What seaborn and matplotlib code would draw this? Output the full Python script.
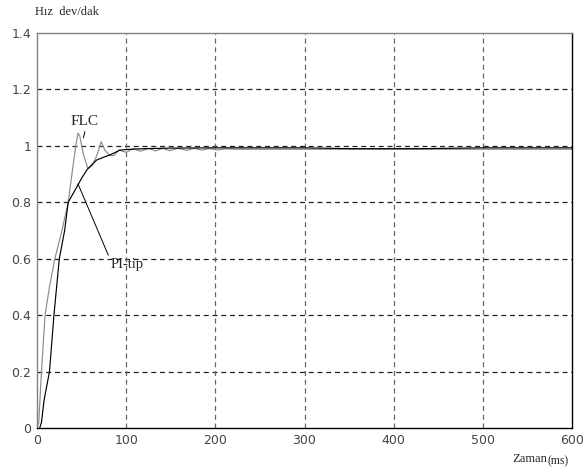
import matplotlib
matplotlib.use("Agg")
import matplotlib.pyplot as plt
import seaborn as sns
import pandas as pd

# --- data ---
flc_t = [0, 2, 5, 9, 14, 20, 28, 35, 40, 44, 46, 48, 52, 57, 62, 67, 72, 76, 81, 86,
         92, 100, 108, 116, 125, 133, 141, 149, 158, 168, 176, 185, 193, 202, 212, 225,
         250, 300, 350, 430, 500, 600]
flc_v = [0, 0.02, 0.2, 0.4, 0.5, 0.6, 0.7, 0.8, 0.92, 1.01, 1.045, 1.035, 0.97, 0.92,
         0.93, 0.965, 1.015, 0.985, 0.968, 0.965, 0.985, 0.977, 0.99, 0.981, 0.991, 0.982,
         0.991, 0.983, 0.991, 0.984, 0.991, 0.985, 0.99, 0.986, 0.989, 0.988,
         0.988, 0.988, 0.988, 0.988, 0.988, 0.988]
pi_t = [3, 5, 8, 14, 19, 22, 25, 31, 35, 43, 50, 56, 62, 67, 75, 82, 93, 105, 120,
        150, 200, 300, 350, 430, 500, 600]
pi_v = [0, 0.02, 0.1, 0.2, 0.4, 0.5, 0.6, 0.7, 0.8, 0.845, 0.885, 0.915, 0.935, 0.95,
        0.96, 0.968, 0.985, 0.988, 0.99, 0.992, 0.993, 0.993, 0.99, 0.99, 0.993, 0.993]

x_ticks = [0, 100, 200, 300, 400, 500, 600]
y_ticks = [0, 0.2, 0.4, 0.6, 0.8, 1.0, 1.2, 1.4]
y_tick_labels = ["0", "0.2", "0.4", "0.6", "0.8", "1", "1.2", "1.4"]

df = pd.concat([
    pd.DataFrame({"t": flc_t, "v": flc_v, "s": "FLC"}),
    pd.DataFrame({"t": pi_t, "v": pi_v, "s": "PI-tip"}),
])

sns.set_style("white")
fig = plt.figure(figsize=(5.83, 4.69), dpi=100)
ax = fig.add_axes([37 / 583, 41 / 469, 535 / 583, 395 / 469])

sns.lineplot(data=df, x="t", y="v", hue="s", palette={"FLC": "#8a8a8a", "PI-tip": "#000000"},
             sort=False, estimator=None, linewidth=0.85, legend=False, ax=ax)

ax.set_xlim(0, 600)
ax.set_ylim(0, 1.4)
ax.set_xticks(x_ticks)
ax.set_yticks(y_ticks)
ax.set_yticklabels(y_tick_labels)
ax.set_xlabel("")
ax.set_ylabel("")
ax.tick_params(length=0, labelsize=9, colors="#444444", pad=4)

for y in y_ticks[1:-1]:
    ax.axhline(y, color="#222222", lw=0.9, ls=(0, (4, 3)), zorder=0)
for x in x_ticks[1:-1]:
    ax.axvline(x, color="#666666", lw=0.9, ls=(0, (4, 3)), zorder=0)

for side, col in [("left", "#808080"), ("top", "#808080"), ("right", "#000000"), ("bottom", "#000000")]:
    ax.spines[side].set_visible(True)
    ax.spines[side].set_color(col)
    ax.spines[side].set_linewidth(1.0)

serif = ["Liberation Serif", "DejaVu Serif"]
fig.text(35 / 583, 1 - 12 / 469, "Hız  dev/dak", fontsize=9, family=serif, ha="left", va="center")
fig.text(512 / 583, 1 - 459 / 469, "Zaman", fontsize=9, family=serif, ha="left", va="center")
fig.text(547 / 583, 1 - 461 / 469, "(ms)", fontsize=8.5, family=serif, ha="left", va="center")

ax.annotate("FLC", xy=(52, 1.028), xytext=(53, 1.085), fontsize=11, family=serif,
            ha="center", va="center",
            arrowprops=dict(arrowstyle="-", color="#000000", lw=0.7, shrinkA=0, shrinkB=0,
                            relpos=(0.55, 0.0)))
ax.annotate("PI-tip", xy=(46, 0.865), xytext=(101, 0.578), fontsize=10.5, family=serif,
            ha="center", va="center",
            arrowprops=dict(arrowstyle="-", color="#000000", lw=0.7, shrinkA=0, shrinkB=0,
                            relpos=(0.0, 0.85)))

fig.savefig("out.png", dpi=100)
